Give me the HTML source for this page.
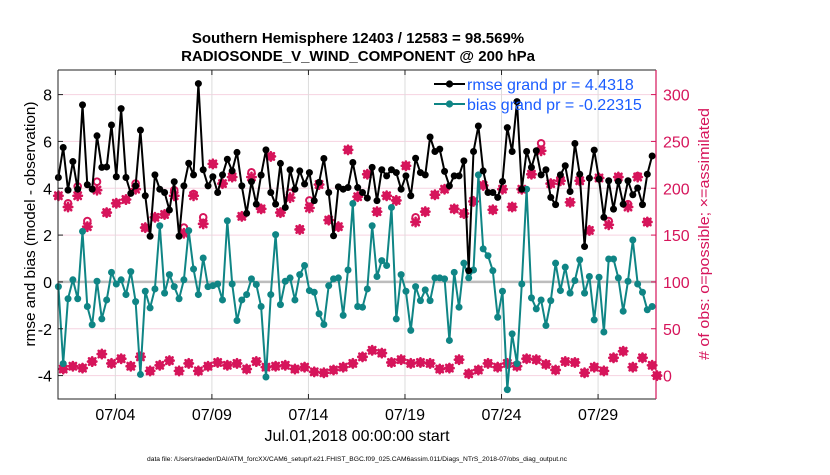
<!DOCTYPE html>
<html><head><meta charset="utf-8">
<style>
body{margin:0;background:#fff;}
svg text{font-family:"Liberation Sans",Arial,sans-serif;}
</style></head>
<body>
<svg id="chart" width="830" height="470" xmlns="http://www.w3.org/2000/svg">
<rect width="830" height="470" fill="#fff"/>
<text x="358" y="43" text-anchor="middle" font-size="15" font-weight="bold">Southern Hemisphere 12403 / 12583 = 98.569%</text>
<text x="358" y="61" text-anchor="middle" font-size="15" font-weight="bold">RADIOSONDE_V_WIND_COMPONENT @ 200 hPa</text>
<g id="grid"></g>
<g id="plot"></g>
<g id="axes"></g>
<text transform="translate(35,224) rotate(-90)" text-anchor="middle" font-size="15" textLength="245" lengthAdjust="spacingAndGlyphs">rmse and bias (model - observation)</text>
<text transform="translate(709,234) rotate(-90)" text-anchor="middle" font-size="15" fill="#d6155b" textLength="252" lengthAdjust="spacingAndGlyphs"># of obs: o=possible; ×=assimilated</text>
<text x="357" y="441" text-anchor="middle" font-size="16">Jul.01,2018 00:00:00 start</text>
<text x="357" y="461" text-anchor="middle" font-size="6.8" textLength="420" lengthAdjust="spacingAndGlyphs">data file: /Users/raeder/DAI/ATM_forcXX/CAM6_setup/f.e21.FHIST_BGC.f09_025.CAM6assim.011/Diags_NTrS_2018-07/obs_diag_output.nc</text>
<g id="legend">
  <line x1="434" y1="84" x2="465" y2="84" stroke="#000" stroke-width="2"/>
  <circle cx="449.5" cy="84" r="3.6" fill="#000"/>
  <text x="467" y="90" font-size="16" fill="#1a5cff">rmse grand pr = 4.4318</text>
  <line x1="434" y1="104" x2="465" y2="104" stroke="#0f8585" stroke-width="2"/>
  <circle cx="449.5" cy="104" r="3.6" fill="#0f8585"/>
  <text x="467" y="110" font-size="16" fill="#1a5cff">bias grand pr = -0.22315</text>
</g>
</svg>
<script>
const rmse = [4.46,5.74,3.92,5.14,3.96,7.56,4.15,3.96,6.24,4.89,4.91,6.70,4.49,7.40,4.46,3.78,4.10,6.48,3.68,1.95,4.57,3.96,3.82,3.07,4.28,1.95,4.10,5.07,4.57,8.47,4.79,4.10,
4.49,3.82,4.57,5.24,4.74,5.53,4.10,2.93,4.28,3.32,4.56,5.64,3.82,3.32,5.06,3.18,4.79,3.96,4.74,4.18,4.67,3.47,4.25,5.27,3.82,1.97,4.06,3.96,4.03,5.10,4.03,
3.82,3.58,4.89,3.47,4.79,4.53,4.79,4.67,3.96,4.53,3.68,5.28,4.67,4.57,6.19,5.57,5.67,4.72,4.10,4.53,4.53,5.17,0.48,5.57,6.66,4.74,3.82,3.82,3.61,4.29,6.59,
5.57,7.70,3.96,5.57,4.89,5.60,4.57,4.79,3.61,3.30,4.57,4.96,3.86,5.91,4.60,1.51,4.43,5.63,4.39,2.76,4.32,3.11,4.29,3.32,4.32,3.72,4.01,3.30,4.60,5.38];
const bias = [-0.20,-3.49,-0.72,0.09,-0.72,2.16,-1.05,-1.83,0.03,-1.58,-0.77,0.41,-0.09,0.09,-0.54,0.44,-0.84,-3.95,-0.40,-1.11,-0.30,2.40,-0.48,0.31,-0.20,-0.72,0.09,2.19,0.55,-0.54,1.02,-0.20,
-0.16,-0.09,-0.77,2.61,-0.09,-1.65,-0.77,-0.54,0.13,-0.11,-1.05,-4.06,-0.54,2.02,-0.97,0.03,0.17,-0.77,0.31,0.70,-0.37,-0.44,-1.36,-1.82,-0.16,0.13,0.17,-1.43,0.51,3.35,-1.05,
-1.08,-0.30,2.40,0.23,0.91,0.70,3.18,-1.58,0.31,-0.40,-2.07,-0.20,-0.80,-0.34,-0.80,0.17,0.17,0.13,-2.50,0.41,-1.08,0.80,0.17,0.51,4.57,1.41,1.12,0.48,-1.51,-0.40,-4.60,
-2.22,-3.49,-0.09,3.96,-0.68,-1.15,-0.77,-1.86,-0.80,0.80,-0.37,0.63,-0.48,0.06,0.94,-0.48,0.23,-1.62,0.20,-2.14,0.98,0.98,0.17,-1.25,0.03,1.79,-0.09,-0.44,-1.19,-1.05];
const obsPossible = [192,7,184,10,202,8,165,15,207,23,174,13,184,18,188,10,205,20,158,5,169,11,172,16,198,5,158,13,194,5,169,10,
226,14,205,11,212,13,170,7,217,15,178,9,234,10,174,11,195,7,156,9,187,4,204,3,166,6,159,9,241,13,191,
20,215,27,175,24,192,14,187,17,224,13,169,14,175,13,193,7,199,8,178,17,173,2,186,6,203,13,177,9,199,13,
180,10,199,18,215,17,248,12,205,6,210,15,185,14,208,3,155,9,211,5,165,19,212,26,183,9,213,19,164,11,0];
const obsAssim = [192,7,180,10,192,8,159,15,198,23,174,13,184,18,188,10,199,20,158,5,169,11,172,16,192,5,152,13,192,5,162,10,
226,14,205,11,212,13,170,7,212,15,178,9,234,10,174,11,190,7,156,9,179,4,204,3,166,6,159,9,241,13,191,
20,215,27,175,24,192,14,187,17,224,13,164,14,175,13,193,7,199,8,178,17,173,2,186,6,203,13,177,9,199,13,
180,10,199,18,215,17,240,12,205,6,208,15,185,14,208,3,155,9,211,5,161,19,212,26,180,9,212,19,164,11,0];
const xTickLabels = ["07/04","07/09","07/14","07/19","07/24","07/29"];
const xTickDays = [3,8,13,18,23,28];
const yTicks = [-4,-2,0,2,4,6,8];
const y2Ticks = [0,50,100,150,200,250,300];

const NS="http://www.w3.org/2000/svg";
const L=58, R=656, T=70, B=399;
const dayMin=0.03, dayMax=31.0, yMin=-5.0, yMax=9.05;
const xs = d => L + (d-dayMin)/(dayMax-dayMin)*(R-L);
const ys = v => B - (v-yMin)/(yMax-yMin)*(B-T);
const ys2 = c => ys((c-100)/25);
const dayOf = k => 0.05 + 0.25*k;
function mk(tag, attrs, parent){const e=document.createElementNS(NS,tag);for(const k in attrs)e.setAttribute(k,attrs[k]);parent.appendChild(e);return e;}
const grid=document.getElementById('grid'), plot=document.getElementById('plot'), axes=document.getElementById('axes');

y2Ticks.forEach(c=>{const g=mk('line',{x1:L,x2:R,y1:ys2(c),y2:ys2(c),stroke:'#f6d3e1','stroke-width':1},grid);

});
xTickDays.forEach(d=>{const g=mk('line',{x1:xs(d),x2:xs(d),y1:T,y2:B,stroke:'#dcdcdc','stroke-width':1},grid);

});
const z=mk('line',{x1:L,x2:R,y1:ys(0),y2:ys(0),stroke:'#bdbdbd','stroke-width':2.5},grid);



const pink='#d6155b';
obsPossible.forEach((c,k)=>{const x=xs(dayOf(k));
 const o=mk('circle',{cx:x,cy:ys2(c),r:3.3,fill:'none',stroke:pink,'stroke-width':2},plot);
 
 });
obsAssim.forEach((c,k)=>{const x=xs(dayOf(k)),y=ys2(c);
 const g=mk('g',{stroke:pink,'stroke-width':2.6,'stroke-linecap':'round'},plot);
 
 
 const s=4.2,d=3.2;
 mk('line',{x1:x-s,x2:x+s,y1:y,y2:y},g);mk('line',{x1:x,x2:x,y1:y-s,y2:y+s},g);
 mk('line',{x1:x-d,x2:x+d,y1:y-d,y2:y+d},g);mk('line',{x1:x-d,x2:x+d,y1:y+d,y2:y-d},g);});

function series(vals,color,name){
 const pts=vals.map((v,k)=>xs(dayOf(k)).toFixed(1)+','+ys(v).toFixed(1)).join(' ');
 const pl=mk('polyline',{points:pts,fill:'none',stroke:color,'stroke-width':2,'stroke-linejoin':'round'},plot);
 
 
 vals.forEach((v,k)=>{const c=mk('circle',{cx:xs(dayOf(k)),cy:ys(v),r:3.5,fill:color},plot);
  
  });
}
series(bias,'#0f8585','bias');
series(rmse,'#000000','rmse');

const ax=mk('path',{d:`M${L},${T} H${R} M${L},${T} V${B} H${R}`,stroke:'#222',fill:'none','stroke-width':1},axes);


const ax2=mk('line',{x1:R,x2:R,y1:T,y2:B,stroke:pink,'stroke-width':1.2},axes);


yTicks.forEach(v=>{const y=ys(v);mk('line',{x1:L,x2:L+5,y1:y,y2:y,stroke:'#222'},axes);
 const t=mk('text',{x:L-6,y:y+6,'text-anchor':'end','font-size':16},axes);t.textContent=v;
 
 });
y2Ticks.forEach(c=>{const y=ys2(c);mk('line',{x1:R-5,x2:R,y1:y,y2:y,stroke:pink},axes);
 const t=mk('text',{x:R+7,y:y+6,'font-size':16,fill:pink},axes);t.textContent=c;
 
 });
xTickDays.forEach((d,i)=>{const x=xs(d);mk('line',{x1:x,x2:x,y1:B,y2:B-5,stroke:'#222'},axes);
 mk('line',{x1:x,x2:x,y1:T,y2:T+5,stroke:'#222'},axes);
 const t=mk('text',{x:x,y:420,'text-anchor':'middle','font-size':16},axes);t.textContent=xTickLabels[i];
 
 });
</script>
</body></html>
